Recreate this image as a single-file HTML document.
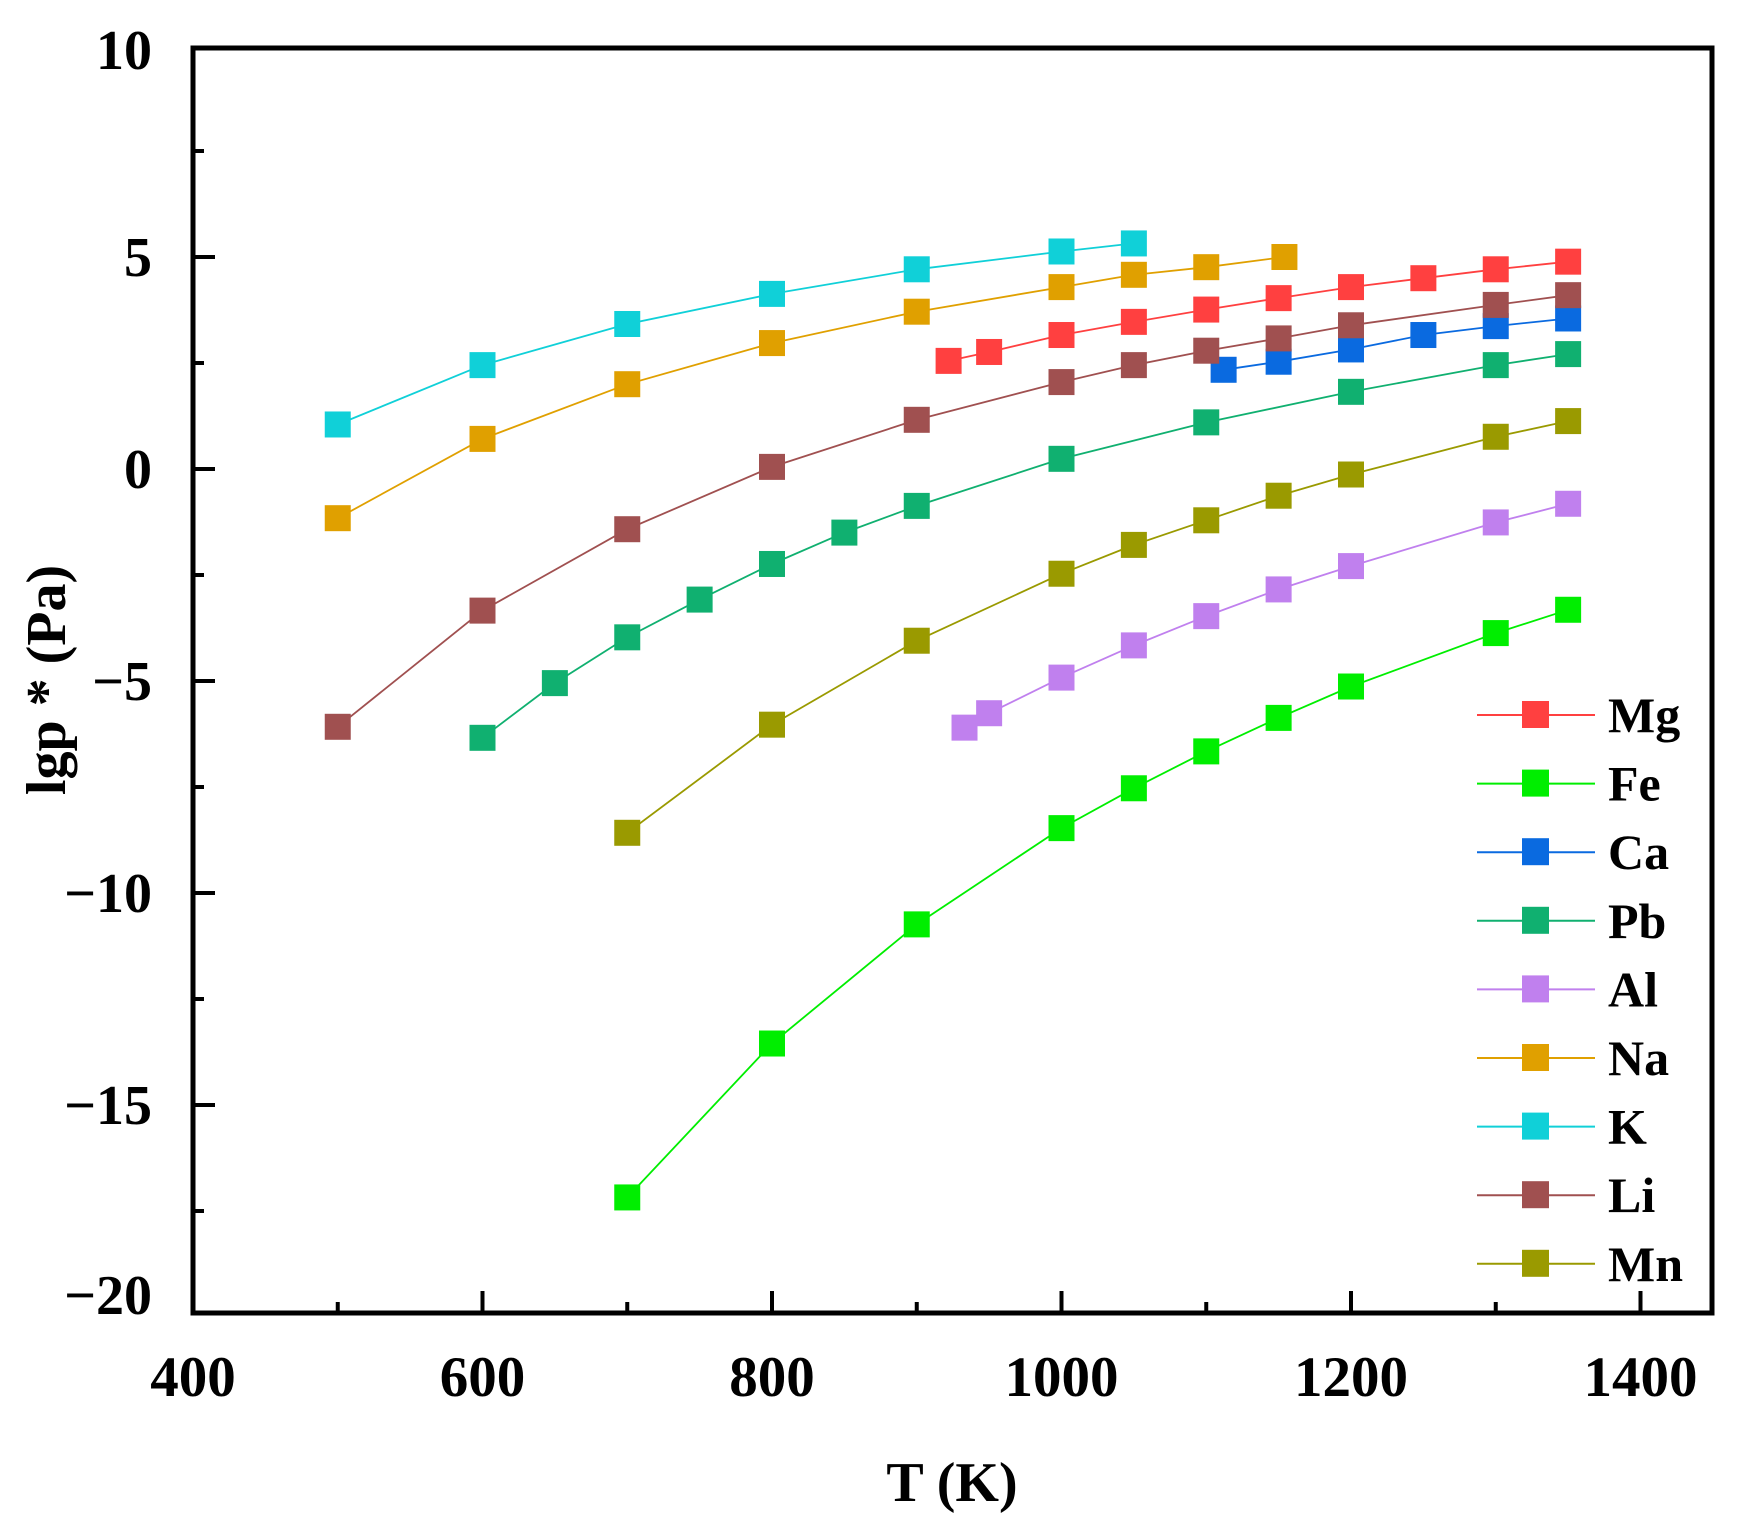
<!DOCTYPE html>
<html><head><meta charset="utf-8"><style>html,body{margin:0;padding:0;background:#fff}svg{display:block}text{font-family:"Liberation Serif",serif;font-weight:bold;fill:#000}</style></head>
<body>
<svg id="s" width="1741" height="1538" viewBox="0 0 1741 1538" xmlns="http://www.w3.org/2000/svg"></svg>
<script>
const s=document.getElementById('s');
const X=T=>193+(T-400)*1.4475, Y=v=>257+(5-v)*42.4;
let h='';
const series=[
['Mg','#ff4040',[[922,2.55],[950,2.76],[1000,3.16],[1050,3.47],[1100,3.76],[1150,4.03],[1200,4.29],[1250,4.5],[1300,4.71],[1350,4.89]]],
['Fe','#00ee00',[[700,-17.18],[800,-13.55],[900,-10.74],[1000,-8.47],[1050,-7.53],[1100,-6.66],[1150,-5.87],[1200,-5.13],[1300,-3.87],[1350,-3.32]]],
['Ca','#0a6ae0',[[1112,2.34],[1150,2.53],[1200,2.82],[1250,3.16],[1300,3.37],[1350,3.55]]],
['Pb','#10b070',[[600,-6.34],[650,-5.05],[700,-3.97],[750,-3.08],[800,-2.24],[850,-1.5],[900,-0.87],[1000,0.24],[1100,1.1],[1200,1.82],[1300,2.45],[1350,2.71]]],
['Al','#c080ee',[[933,-6.1],[950,-5.76],[1000,-4.92],[1050,-4.16],[1100,-3.47],[1150,-2.84],[1200,-2.29],[1300,-1.26],[1350,-0.82]]],
['Na','#e0a000',[[500,-1.16],[600,0.71],[700,2.0],[800,2.97],[900,3.71],[1000,4.29],[1050,4.58],[1100,4.76],[1154,5.0]]],
['K','#10d0d8',[[500,1.05],[600,2.45],[700,3.42],[800,4.13],[900,4.71],[1000,5.13],[1050,5.32]]],
['Li','#a05050',[[500,-6.08],[600,-3.34],[700,-1.42],[800,0.05],[900,1.16],[1000,2.05],[1050,2.45],[1100,2.79],[1150,3.08],[1200,3.39],[1300,3.87],[1350,4.1]]],
['Mn','#9a9a00',[[700,-8.58],[800,-6.03],[900,-4.05],[1000,-2.47],[1050,-1.79],[1100,-1.21],[1150,-0.63],[1200,-0.13],[1300,0.76],[1350,1.13]]]];
series.forEach(([n,c,d],i)=>{
 h+=`<polyline fill="none" stroke="${c}" stroke-width="1.8" points="${d.map(p=>X(p[0]).toFixed(1)+','+Y(p[1]).toFixed(1)).join(' ')}"/>`;
 d.forEach(p=>h+=`<rect x="${X(p[0])-13}" y="${Y(p[1])-13}" width="26" height="26" fill="${c}"/>`);
 const ly=715+i*68.6;
 h+=`<line x1="1477" x2="1595" y1="${ly}" y2="${ly}" stroke="${c}" stroke-width="2"/><rect x="1522" y="${ly-14}" width="27" height="27" fill="${c}"/><text x="1608" y="${ly+17}" font-size="50">${n}</text>`;
});
h+=`<rect x="193" y="48" width="1519" height="1265" fill="none" stroke="#000" stroke-width="5"/>`;
for(let v=7.5;v>=-17.5;v-=2.5){const y=Y(v),maj=v%5==0;h+=`<line x1="193" x2="${maj?215:204}" y1="${y}" y2="${y}" stroke="#000" stroke-width="4"/>`;
 if(maj)h+=`<text x="152" y="${y+19}" font-size="56" text-anchor="end">${v<0?'\u2212'+(-v):v}</text>`;}
h+=`<text x="152" y="69" font-size="56" text-anchor="end">10</text>`;
h+=`<text x="152" y="1314" font-size="56" text-anchor="end">\u221220</text>`;
for(let t=400;t<=1400;t+=100){const x=X(t),maj=t%200==0;h+=`<line x1="${x}" x2="${x}" y1="1313" y2="${maj?1291:1302}" stroke="#000" stroke-width="4"/>`;
 if(maj)h+=`<text x="${x}" y="1396" font-size="57" text-anchor="middle">${t}</text>`;}
h+=`<text x="952" y="1501" font-size="56" text-anchor="middle">T (K)</text>`;
h+=`<text transform="translate(65,680) rotate(-90)" font-size="56" text-anchor="middle">lgp * (Pa)</text>`;
s.innerHTML=h;
</script>
</body></html>
